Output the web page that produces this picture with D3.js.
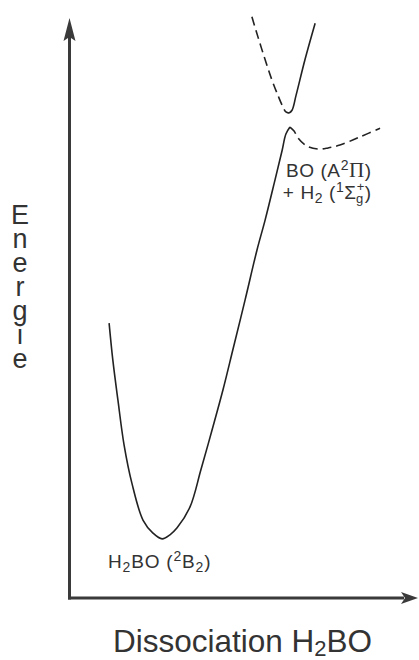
<!DOCTYPE html>
<html><head><meta charset="utf-8">
<script src="https://cdn.jsdelivr.net/npm/d3@7"></script>
<style>body{margin:0;background:#fff}svg{display:block}text{font-family:"Liberation Sans",Arial,sans-serif;fill:#333}</style>
</head><body><div id="chart"></div>
<script>
// data coordinates: x = dissociation coordinate (0-100), y = energy (0-100)
const groundState = [[11.5,47.4],[12.6,41.0],[14.1,34.1],[15.9,26.4],[18.2,19.8],[21.5,13.4],[24.4,11.2],[27.1,10.2],[29.4,10.9],[31.5,12.1],[35.3,15.7],[38.5,22.1],[41.8,29.0],[45.0,35.9],[47.9,42.8],[51.5,51.4],[55.0,60.0],[57.4,65.2],[60.3,72.1],[62.4,77.2],[63.5,80.0],[64.7,81.2]];
const exitChannel = [[64.7,81.2],[65.9,80.5],[67.1,79.3],[69.7,77.9],[72.9,77.4],[75.9,77.6],[79.4,78.1],[85.3,79.5],[91.2,81.0]];
const upperDashed = [[53.5,100.2],[55.3,96.7],[57.4,92.8],[59.4,89.3],[61.2,86.6],[62.6,84.7],[63.5,83.8],[64.4,83.6]];
const upperSolid = [[64.4,83.6],[65.3,84.1],[66.5,86.7],[69.1,92.8],[72.1,99.1]];
const yLetters = ["E","n","e","r","g","i","e"];

const W = 419, H = 660;
const svg = d3.select("#chart").append("svg").attr("width", W).attr("height", H);
const x = d3.scaleLinear().domain([0,100]).range([70,410]);
const y = d3.scaleLinear().domain([0,100]).range([598,18]);

const axisColor = "#3a3a3a";
// axes
svg.append("line").attr("x1",69.5).attr("x2",69.5).attr("y1",599.5).attr("y2",36)
  .attr("stroke",axisColor).attr("stroke-width",3);
svg.append("path").attr("d","M69.5,18 L75.5,41 L69.5,37 L63.5,41 Z").attr("fill",axisColor);
svg.append("line").attr("x1",68).attr("x2",404).attr("y1",598).attr("y2",598)
  .attr("stroke",axisColor).attr("stroke-width",3);
svg.append("path").attr("d","M418,598 L401,592 L405,598 L401,604 Z").attr("fill",axisColor);

const line = d3.line().x(d=>x(d[0])).y(d=>y(d[1])).curve(d3.curveCatmullRom.alpha(0.5));
const curveColor = "#222";
svg.append("path").attr("d",line(groundState)).attr("fill","none").attr("stroke",curveColor).attr("stroke-width",1.6);
svg.append("path").attr("d",line(upperSolid)).attr("fill","none").attr("stroke",curveColor).attr("stroke-width",1.6);
svg.append("path").attr("d",line(exitChannel)).attr("fill","none").attr("stroke",curveColor).attr("stroke-width",1.6).attr("stroke-dasharray","9,5");
svg.append("path").attr("d",line(upperDashed)).attr("fill","none").attr("stroke",curveColor).attr("stroke-width",1.6).attr("stroke-dasharray","9,5");

// labels
const lab1 = svg.append("text").attr("x",x(11.2)).attr("y",y(5.2)).attr("font-size",19).attr("letter-spacing",0.8);
lab1.append("tspan").text("H");
lab1.append("tspan").text("2").attr("font-size",14).attr("dy",4);
lab1.append("tspan").text("BO (").attr("dy",-4);
lab1.append("tspan").text("2").attr("font-size",14).attr("dy",-7);
lab1.append("tspan").text("B").attr("dy",7);
lab1.append("tspan").text("2").attr("font-size",14).attr("dy",4);
lab1.append("tspan").text(")").attr("dy",-4);

const lab2 = svg.append("text").attr("x",x(63.5)).attr("y",y(72.6)).attr("font-size",19).attr("letter-spacing",0.6);
lab2.append("tspan").text("BO (A");
lab2.append("tspan").text("2").attr("font-size",14).attr("dy",-7);
lab2.append("tspan").text("Π").attr("dy",7).attr("font-size",21).style("font-family","'Liberation Serif',serif");
lab2.append("tspan").text(")");

const lab3 = svg.append("text").attr("x",x(62.6)).attr("y",y(68.8)).attr("font-size",19).attr("letter-spacing",0.6);
lab3.append("tspan").text("+ H");
lab3.append("tspan").text("2").attr("font-size",14).attr("dy",4);
lab3.append("tspan").text(" (").attr("dy",-4);
lab3.append("tspan").text("1").attr("font-size",14).attr("dy",-7);
lab3.append("tspan").text("Σ").attr("dy",7);
lab3.append("tspan").text("+").attr("font-size",13).attr("dx",0).attr("dy",-8);
lab3.append("tspan").text("g").attr("font-size",13).attr("dx",-9).attr("dy",12);
lab3.append("tspan").text(")").attr("dx",1).attr("dy",-4);

// axis titles
const yt = svg.append("text").attr("font-size",27).attr("text-anchor","middle");
yLetters.forEach((c,i)=>{
  yt.append("tspan").attr("x",20).attr("y",224+i*24).text(c);
});
const xt = svg.append("text").attr("x",113).attr("y",652).attr("font-size",31.5);
xt.append("tspan").text("Dissociation H");
xt.append("tspan").text("2").attr("font-size",22).attr("dy",4);
xt.append("tspan").text("BO").attr("dy",-4);
</script></body></html>
